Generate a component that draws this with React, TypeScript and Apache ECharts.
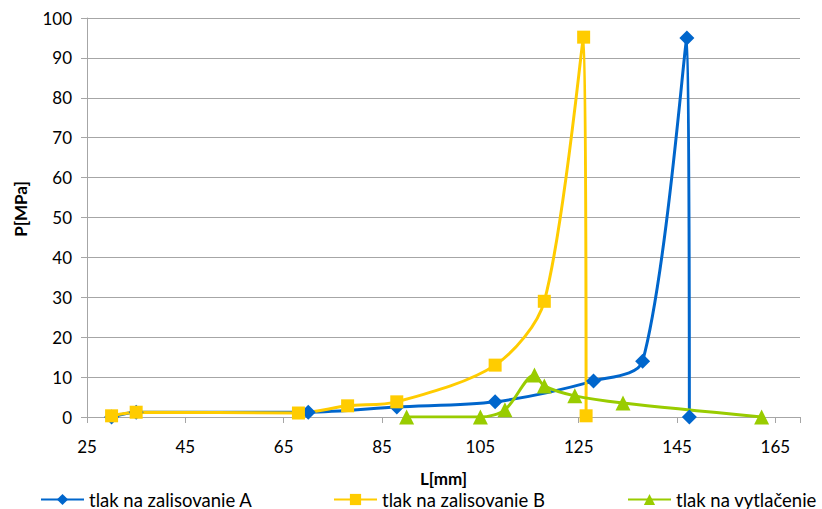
import React, { useEffect, useRef } from "react";
import * as echarts from "echarts";

// L[mm] / P[MPa] pairs for each pressing curve
const seriesNames = ["tlak na zalisovanie A", "tlak na zalisovanie B", "tlak na vytlačenie"];
const zalisovanieA: [number, number][] = [
  [30, 0], [35, 1.2], [70, 1.2], [88, 2.5], [108, 3.8], [128, 9], [138, 14], [147, 95], [147.5, 0],
];
const zalisovanieB: [number, number][] = [
  [30, 0.3], [35, 1.2], [68, 1], [78, 2.8], [88, 3.8], [108, 13], [118, 29], [126, 95.2], [126.5, 0.3],
];
const vytlacenie: [number, number][] = [
  [90, 0], [105, 0], [110, 1.8], [116, 10.5], [118, 7.8], [124.2, 5.3], [134, 3.5], [162.2, 0],
];
const xMin = 25;
const xMax = 170;
const xStep = 20;
const yTicks = [0, 10, 20, 30, 40, 50, 60, 70, 80, 90, 100];
const xTitle = "L[mm]";
const yTitle = "P[MPa]";

const colors = ["#0066cc", "#ffcc00", "#99cc00"];
const font = "Lato, 'Noto Sans', sans-serif";
const legendLefts = [40, 333, 627];

export default function App() {
  const ref = useRef<HTMLDivElement>(null);

  useEffect(() => {
    if (!ref.current) return;
    const chart = echarts.init(ref.current, null, { renderer: "svg" });
    const axisGray = "#a6a6a6";
    const labelStyle = { fontFamily: font, fontSize: 17, color: "#000" };
    chart.setOption({
      animation: false,
      color: colors,
      textStyle: { fontFamily: font },
      grid: { left: 87, right: 22, top: 18, bottom: 92 },
      legend: seriesNames.map((name, i) => ({
        top: 490,
        left: legendLefts[i],
        padding: 0,
        itemWidth: 43,
        itemHeight: 14,
        textStyle: { fontFamily: font, fontSize: 18.5, lineHeight: 18, color: "#000" },
        data: [name],
      })),
      graphic: [
        {
          type: "text",
          x: 20,
          y: 209,
          rotation: Math.PI / 2,
          style: {
            text: yTitle,
            fontFamily: font,
            fontSize: 17,
            fontWeight: "bold",
            fill: "#000",
            align: "center",
            verticalAlign: "middle",
          },
        },
      ],
      xAxis: [
        {
          type: "value",
          min: xMin,
          max: xMax,
          interval: 5,
          name: xTitle,
          nameLocation: "middle",
          nameGap: 53,
          nameTextStyle: {
            fontFamily: font,
            fontSize: 17,
            lineHeight: 17,
            fontWeight: "bold",
            color: "#000",
          },
          axisLine: { show: true, lineStyle: { color: axisGray, width: 1 } },
          axisTick: { show: false },
          splitLine: { show: false },
          axisLabel: {
            ...labelStyle,
            margin: 21,
            showMaxLabel: false,
            formatter: (v: number) => ((v - xMin) % xStep === 0 ? String(v) : ""),
          },
        },
        {
          // tick marks every 20 mm, counted from the axis start
          type: "value",
          min: 0,
          max: xMax - xMin,
          interval: xStep,
          position: "bottom",
          axisLine: { show: false },
          axisLabel: { show: false },
          splitLine: { show: false },
          axisTick: { show: true, length: 6, lineStyle: { color: axisGray } },
        },
      ],
      yAxis: {
        type: "value",
        min: yTicks[0],
        max: yTicks[yTicks.length - 1],
        interval: 10,
        axisLine: { show: true, lineStyle: { color: axisGray, width: 1 } },
        axisTick: { show: true, length: 6, lineStyle: { color: axisGray } },
        splitLine: { show: true, lineStyle: { color: axisGray, width: 1 } },
        axisLabel: { ...labelStyle, margin: 15 },
      },
      series: [
        {
          name: seriesNames[0],
          type: "line",
          data: zalisovanieA,
          smooth: 0.3,
          symbol: "diamond",
          symbolSize: 15,
          lineStyle: { width: 3, color: colors[0] },
          itemStyle: { color: colors[0] },
        },
        {
          name: seriesNames[1],
          type: "line",
          data: zalisovanieB,
          smooth: 0.3,
          symbol: "rect",
          symbolSize: 13,
          lineStyle: { width: 3, color: colors[1] },
          itemStyle: { color: colors[1] },
        },
        {
          name: seriesNames[2],
          type: "line",
          data: vytlacenie,
          smooth: 0.3,
          symbol: "triangle",
          symbolSize: 15,
          lineStyle: { width: 3, color: colors[2] },
          itemStyle: { color: colors[2] },
        },
      ],
    });
    return () => chart.dispose();
  }, []);

  return <div ref={ref} style={{ width: 822, height: 509, position: "absolute", left: 0, top: 0 }} />;
}
